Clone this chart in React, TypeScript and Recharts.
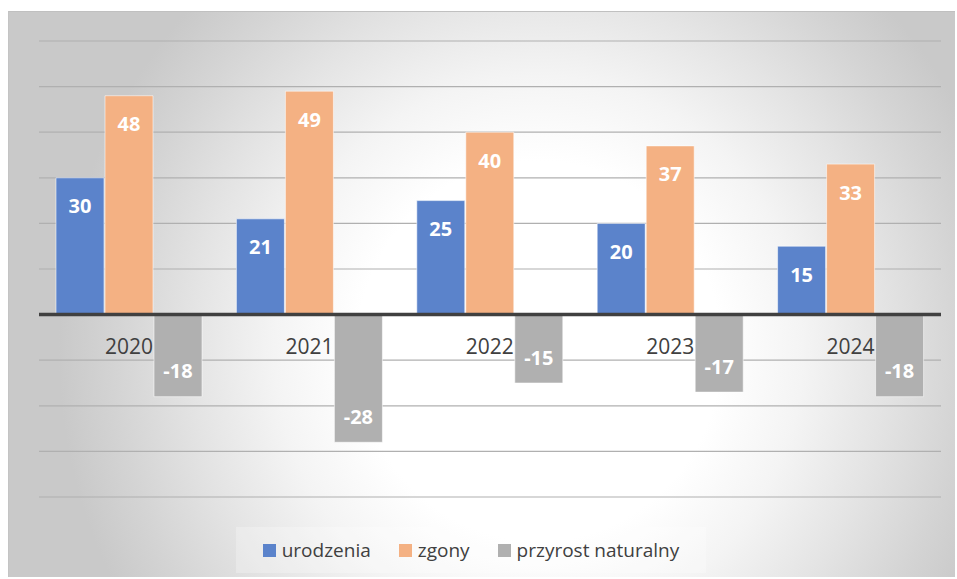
import { BarChart, Bar, XAxis, YAxis, CartesianGrid, ReferenceLine, LabelList } from 'recharts';

const years = ['2020', '2021', '2022', '2023', '2024'];
const urodzenia = [30, 21, 25, 20, 15];
const zgony = [48, 49, 40, 37, 33];
const przyrost = [-18, -28, -15, -17, -18];
const yTicks = [-40, -30, -20, -10, 0, 10, 20, 30, 40, 50, 60];

const series = [
  { key: 'urodzenia', name: 'urodzenia', color: '#5b83cb' },
  { key: 'zgony', name: 'zgony', color: '#f4b183' },
  { key: 'przyrost', name: 'przyrost naturalny', color: '#b0b0b0' },
];

const data = years.map((year, i) => ({
  year,
  urodzenia: urodzenia[i],
  zgony: zgony[i],
  przyrost: przyrost[i],
}));

const FONT = '"Open Sans", sans-serif';

function ValueLabel(props: any) {
  const { x, y, width, height, value } = props;
  const top = Math.min(y, y + height);
  const bottom = Math.max(y, y + height);
  const cy = value >= 0 ? top + 28 : bottom - 26;
  return (
    <text
      x={x + width / 2}
      y={cy}
      textAnchor="middle"
      dominantBaseline="central"
      fill="#ffffff"
      fontSize={20}
      fontWeight={700}
      fontFamily={FONT}
    >
      {value}
    </text>
  );
}

// year labels sit just under the zero line, centred on the middle bar
function YearLabel(props: any) {
  const { x, y, width, height, value } = props;
  const bottom = Math.max(y, y + height);
  return (
    <text
      x={x + width / 2}
      y={bottom + 31}
      textAnchor="middle"
      dominantBaseline="central"
      fill="#404040"
      fontSize={21}
      fontFamily={FONT}
    >
      {value}
    </text>
  );
}

export default function App() {
  return (
    <div style={{ position: 'absolute', left: 0, top: 0, width: 957, height: 579, background: '#fff' }}>
      <div
        style={{
          position: 'absolute',
          left: 8,
          top: 11,
          width: 947,
          height: 566,
          borderTop: '1px solid #c0c0c0',
          borderLeft: '1px solid #c4c4c4',
          boxSizing: 'border-box',
          background:
            'radial-gradient(ellipse 480px 500px at 56% 60%, #ffffff 0%, #ffffff 38%, #f4f4f4 55%, #e4e4e4 72%, #d4d4d4 88%, #c9c9c9 100%)',
        }}
      >
        <BarChart
          width={947}
          height={566}
          data={data}
          margin={{ top: 29, right: 15, left: 30, bottom: 81 }}
          barCategoryGap={17}
          barGap={1}
        >
          <CartesianGrid vertical={false} stroke="#b0b0b0" strokeWidth={1.2} />
          <XAxis dataKey="year" hide />
          <YAxis hide domain={[-40, 60]} ticks={yTicks} />
          {series.map((s) => (
            <Bar
              key={s.key}
              dataKey={s.key}
              name={s.name}
              fill={s.color}
              stroke="rgba(255,255,255,0.55)"
              strokeWidth={1}
              isAnimationActive={false}
            >
              <LabelList dataKey={s.key} content={ValueLabel} />
              {s.key === 'zgony' && <LabelList dataKey="year" content={YearLabel} />}
            </Bar>
          ))}
          <ReferenceLine y={0} stroke="#404040" strokeWidth={3.5} />
        </BarChart>
        <div
          style={{
            position: 'absolute',
            left: 227,
            top: 515,
            width: 470,
            height: 46,
            background: 'rgba(255,255,255,0.25)',
            display: 'flex',
            alignItems: 'center',
            justifyContent: 'center',
            gap: 28,
            fontFamily: FONT,
            fontSize: 19,
            color: '#404040',
          }}
        >
          {series.map((s) => (
            <div key={s.key} style={{ display: 'flex', alignItems: 'center', gap: 6 }}>
              <span style={{ width: 13, height: 13, background: s.color, display: 'inline-block' }} />
              <span>{s.name}</span>
            </div>
          ))}
        </div>
      </div>
    </div>
  );
}
